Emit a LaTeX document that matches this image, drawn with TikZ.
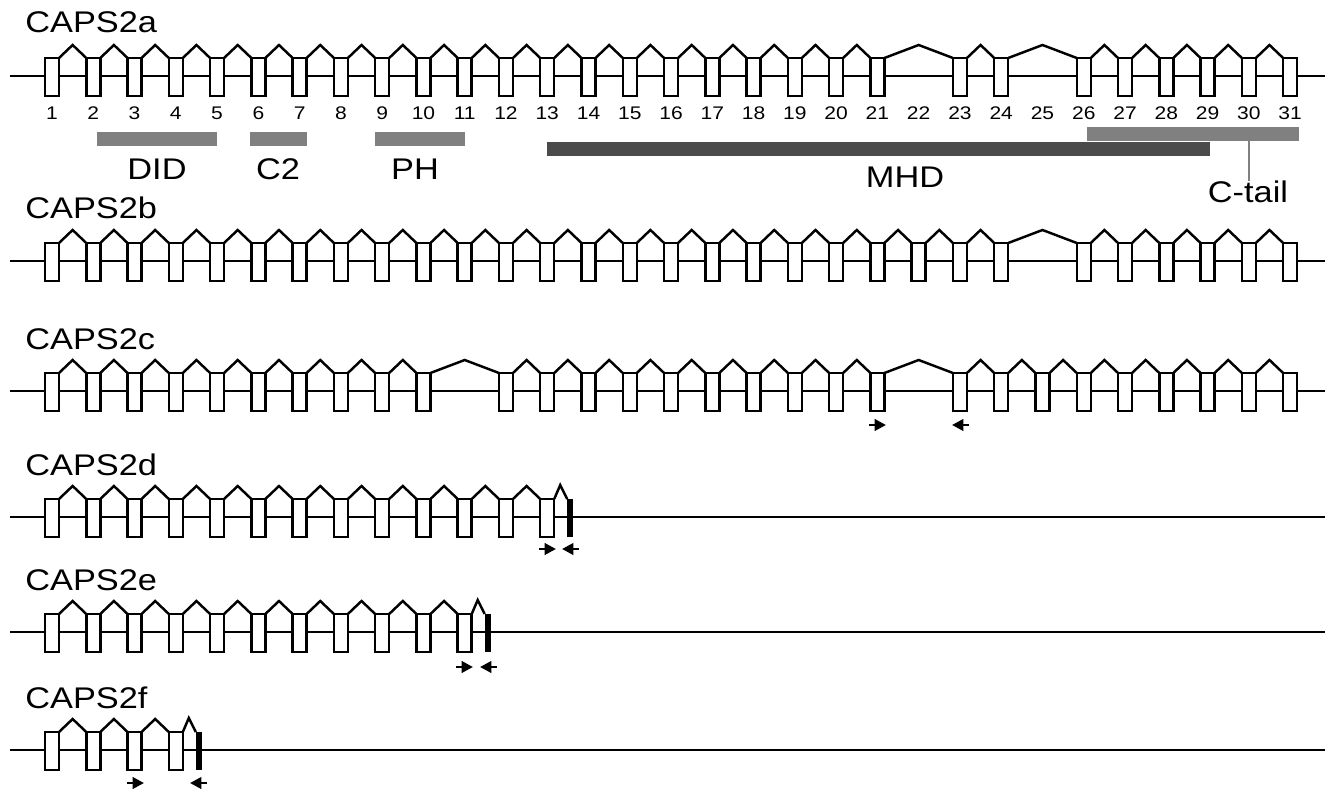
\documentclass[tikz,border=0pt]{standalone}
\usepackage{fontspec}
\setmainfont[FakeStretch=1.15]{Liberation Sans}
\usetikzlibrary{arrows.meta}

\definecolor{didgray}{HTML}{808080}
\definecolor{mhdgray}{HTML}{4B4B4B}

\tikzset{
  exon/.style={draw=black, fill=white, line width=1.4pt},
  intron/.style={black, line width=1.4pt},
  stopbar/.style={fill=black},
  primer/.style={line width=1.6pt, -{Triangle[length=6.5pt,width=6.5pt]}},
  title/.style={anchor=base west, inner sep=0pt, font=\fontsize{17}{17}\selectfont},
  exnum/.style={anchor=base, inner sep=0pt, font=\fontsize{10.4}{11}\selectfont},
  dlabel/.style={anchor=base, inner sep=0pt, font=\fontsize{17}{17}\selectfont},
}

% one transcript: baseline y, list of exon slots
\newcommand{\exonrow}[2]{%
  \draw[intron] (10,#1) -- (1325,#1);
  \foreach \s [remember=\s as \p (initially 0)] in {#2} {%
    \ifnum\p>0
      \draw[intron] ({3.73+41.27*\p+14},{#1-18}) -- ({(3.73+41.27*\p+14+3.73+41.27*\s)/2},{#1-31}) -- ({3.73+41.27*\s},{#1-18});
    \fi
    \draw[exon] ({3.73+41.27*\s},{#1-18}) rectangle +(14,38);
  }%
}
% truncated end after slot #2
\newcommand{\stopend}[2]{%
  \draw[intron] ({3.73+41.27*#2+14},{#1-18}) -- ({3.73+41.27*#2+20},{#1-32}) -- ({3.73+41.27*#2+27},{#1-18});
  \fill[stopbar] ({3.73+41.27*#2+27},{#1-18}) rectangle +(6,38);
}

\begin{document}
\begin{tikzpicture}[x=0.02cm, y=-0.02cm]
  \useasboundingbox (0,0) rectangle (1331,790);

  %% CAPS2a
  \node[title] (tA) at (25,33) {CAPS2a};
  \exonrow{76}{1,...,21,23,24,26,27,...,31}
  \foreach \s in {1,...,31}
    \node[exnum] (n\s) at ({10.73+41.27*\s},120) {\s};

  % domains
  \fill[didgray] (97,132) rectangle (217,146);
  \fill[didgray] (250,132) rectangle (307,146);
  \fill[didgray] (375,132) rectangle (465,146);
  \fill[mhdgray] (547,142) rectangle (1210,156);
  \fill[didgray] (1087,127) rectangle (1299,141);
  \draw[didgray, line width=0.9pt] (1249,141) -- (1249,181);
  \node[dlabel] (did) at (157,180) {DID};
  \node[dlabel] (ctwo) at (278,180) {C2};
  \node[dlabel] (ph) at (415,180) {PH};
  \node[dlabel] (mhd) at (905,188) {MHD};
  \node[dlabel] (ctail) at (1248,203) {C-tail};

  %% CAPS2b
  \node[title] (tB) at (25,219) {CAPS2b};
  \exonrow{261}{1,...,24,26,27,...,31}

  %% CAPS2c
  \node[title] (tC) at (25,349) {CAPS2c};
  \exonrow{391}{1,...,10,12,13,...,21,23,24,...,31}
  \draw[primer] (869,425) -- (886,425);
  \draw[primer] (969,425) -- (952,425);

  %% CAPS2d
  \node[title] (tD) at (25,475) {CAPS2d};
  \exonrow{517}{1,...,13}
  \stopend{517}{13}
  \draw[primer] (539,549) -- (556,549);
  \draw[primer] (579,549) -- (562,549);

  %% CAPS2e
  \node[title] (tE) at (25,590) {CAPS2e};
  \exonrow{632}{1,...,11}
  \stopend{632}{11}
  \draw[primer] (456,667) -- (473,667);
  \draw[primer] (497,667) -- (480,667);

  %% CAPS2f
  \node[title] (tF) at (25,708) {CAPS2f};
  \exonrow{750}{1,...,4}
  \stopend{750}{4}
  \draw[primer] (127,783) -- (144,783);
  \draw[primer] (207,783) -- (190,783);
\end{tikzpicture}
\end{document}
